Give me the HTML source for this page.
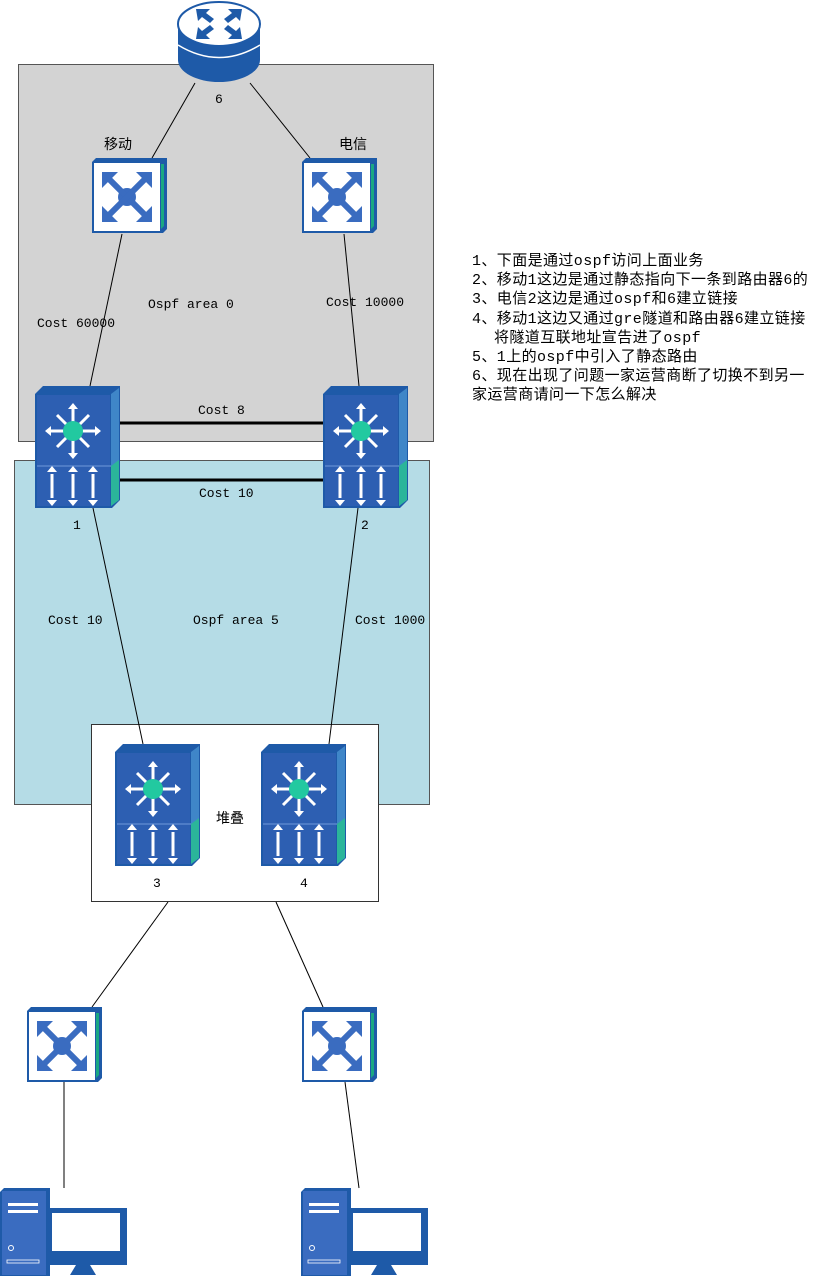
<!DOCTYPE html>
<html><head><meta charset="utf-8"><style>
html,body{margin:0;padding:0;background:#fff;}
svg{display:block;}
.m{font-family:"Liberation Mono","Noto Sans CJK SC",monospace;font-size:13px;fill:#000;}
.c{font-family:"Liberation Sans","Noto Sans CJK SC",sans-serif;font-size:14px;fill:#000;}
.r{font-family:"Liberation Mono","Noto Sans CJK SC",monospace;font-size:15px;letter-spacing:0.4px;fill:#000;}
</style></head><body>
<svg width="822" height="1278" viewBox="0 0 822 1278" xmlns="http://www.w3.org/2000/svg">
<defs>
<symbol id="sw" viewBox="0 0 75 75">
<path d="M4 0 H75 V71 L71 75 H0 V4 Z" fill="#1e5aa8"/>
<rect x="2" y="5" width="66" height="68" fill="#fff"/>
<path d="M69 6 V71 L72 68 V6 Z" fill="#1aa882"/>
<g fill="#3a6cc0"><circle cx="35" cy="39" r="9"/>
<g stroke="#3a6cc0" stroke-width="6"><line x1="14" y1="18" x2="56" y2="60"/><line x1="56" y1="18" x2="14" y2="60"/></g>
<path d="M10 14 H26 L10 30Z M60 14 H44 L60 30Z M10 64 H26 L10 48Z M60 64 H44 L60 48Z"/></g>
</symbol>
<symbol id="l3" viewBox="0 0 85 122">
<path d="M8 0 H85 V114 L77 122 H0 V8 Z" fill="#1e5aa8"/>
<rect x="2" y="9" width="73" height="111" fill="#2d5fb2"/>
<path d="M76 8 L84 2 V114 L76 120Z" fill="#3f86c8"/>
<path d="M76 80 L84 74 V114 L76 120Z" fill="#2bb59a"/>
<line x1="2" y1="80" x2="76" y2="80" stroke="#5a86cc" stroke-width="1.5"/>
<g stroke="#fff" stroke-width="3" fill="none">
<line x1="38" y1="22" x2="38" y2="68"/><line x1="15" y1="45" x2="61" y2="45"/>
<line x1="22" y1="29" x2="54" y2="61"/><line x1="54" y1="29" x2="22" y2="61"/>
<line x1="17" y1="88" x2="17" y2="112"/><line x1="38" y1="88" x2="38" y2="112"/><line x1="58" y1="88" x2="58" y2="112"/></g>
<g fill="#fff"><path d="M38 17 l-5 6 h10z M38 73 l-5 -6 h10z M10 45 l6 -5 v10z M66 45 l-6 -5 v10z"/>
<path d="M12 86 h10 l-5 -6z M12 114 h10 l-5 6z M33 86 h10 l-5 -6z M33 114 h10 l-5 6z M53 86 h10 l-5 -6z M53 114 h10 l-5 6z"/></g>
<circle cx="38" cy="45" r="10" fill="#22c9a0"/>
</symbol>
<symbol id="pc" viewBox="0 0 127 88">
<path d="M4 0 H50 V88 H0 V4Z" fill="#1e5aa8"/>
<rect x="2" y="3" width="44" height="84" fill="#3a6cc0"/>
<rect x="8" y="15" width="30" height="3" fill="#fff"/><rect x="8" y="22" width="30" height="3" fill="#fff"/>
<circle cx="11" cy="60" r="2.5" fill="none" stroke="#fff"/><rect x="7" y="72" width="32" height="3" fill="none" stroke="#fff" stroke-width="0.8"/>
<rect x="48" y="20" width="79" height="57" fill="#1e5aa8"/>
<rect x="52" y="25" width="68" height="38" fill="#fff"/>
<path d="M76 77 h14 l6 10 h-26z" fill="#1e5aa8"/>
</symbol>
</defs>
<rect x="18.5" y="64.5" width="415" height="377" fill="#d3d3d3" stroke="#555"/>
<rect x="14.5" y="460.5" width="415" height="344" fill="#b5dce6" stroke="#555"/>
<rect x="91.5" y="724.5" width="287" height="177" fill="#fff" stroke="#333"/>
<g stroke="#000" stroke-width="1" fill="none">
<line x1="195" y1="83" x2="152" y2="158"/><line x1="250" y1="83" x2="310" y2="158"/>
<line x1="122" y1="234" x2="90" y2="386"/><line x1="344" y1="234" x2="359" y2="386"/>
<line x1="93" y1="508" x2="143" y2="744"/><line x1="358" y1="508" x2="329" y2="744"/>
<line x1="168" y1="902" x2="92" y2="1007"/><line x1="276" y1="902" x2="323" y2="1007"/>
<line x1="64" y1="1082" x2="64" y2="1188"/><line x1="345" y1="1082" x2="359" y2="1188"/>
</g>
<g stroke="#000" stroke-width="3"><line x1="118" y1="423" x2="325" y2="423"/><line x1="118" y1="480" x2="325" y2="480"/></g>
<g>
<rect x="178" y="24" width="82" height="36" fill="#1e5aa8"/>
<ellipse cx="219" cy="60" rx="41" ry="22" fill="#1e5aa8"/>
<path d="M178 45 Q219 70 260 45" stroke="#fff" stroke-width="1.5" fill="none"/>
<ellipse cx="219" cy="24" rx="41" ry="22" fill="#fff" stroke="#1e5aa8" stroke-width="2"/>
<g fill="#1e5aa8"><path d="M196 9 h14 l-4 4 l8 6 l-4 4 l-8 -6 l-4 4z M242 9 h-14 l4 4 l-8 6 l4 4 l8 -6 l4 4z M196 39 h14 l-4 -4 l8 -6 l-4 -4 l-8 6 l-4 -4z M242 39 h-14 l4 -4 l-8 -6 l4 -4 l8 6 l4 -4z"/></g>
</g>
<use href="#sw" x="92" y="158" width="75" height="75"/>
<use href="#sw" x="302" y="158" width="75" height="75"/>
<use href="#l3" x="35" y="386" width="85" height="122"/>
<use href="#l3" x="323" y="386" width="85" height="122"/>
<use href="#l3" x="115" y="744" width="85" height="122"/>
<use href="#l3" x="261" y="744" width="85" height="122"/>
<use href="#sw" x="27" y="1007" width="75" height="75"/>
<use href="#sw" x="302" y="1007" width="75" height="75"/>
<use href="#pc" x="0" y="1188" width="127" height="88"/>
<use href="#pc" x="301" y="1188" width="127" height="88"/>
<text class="m" x="215" y="103">6</text>
<text class="c" x="104" y="149">移动</text>
<text class="c" x="339" y="149">电信</text>
<text class="m" x="37" y="327">Cost 60000</text>
<text class="m" x="148" y="308">Ospf area 0</text>
<text class="m" x="326" y="306">Cost 10000</text>
<text class="m" x="198" y="414">Cost 8</text>
<text class="m" x="199" y="497">Cost 10</text>
<text class="m" x="73" y="529">1</text>
<text class="m" x="361" y="529">2</text>
<text class="m" x="48" y="624">Cost 10</text>
<text class="m" x="193" y="624">Ospf area 5</text>
<text class="m" x="355" y="624">Cost 1000</text>
<text class="c" x="216" y="823">堆叠</text>
<text class="m" x="153" y="887">3</text>
<text class="m" x="300" y="887">4</text>
<g class="r">
<text x="472" y="265">1、下面是通过ospf访问上面业务</text>
<text x="472" y="284">2、移动1这边是通过静态指向下一条到路由器6的</text>
<text x="472" y="303">3、电信2这边是通过ospf和6建立链接</text>
<text x="472" y="323">4、移动1这边又通过gre隧道和路由器6建立链接</text>
<text x="494" y="342">将隧道互联地址宣告进了ospf</text>
<text x="472" y="361">5、1上的ospf中引入了静态路由</text>
<text x="472" y="380">6、现在出现了问题一家运营商断了切换不到另一</text>
<text x="472" y="399">家运营商请问一下怎么解决</text>
</g>
</svg>
</body></html>
